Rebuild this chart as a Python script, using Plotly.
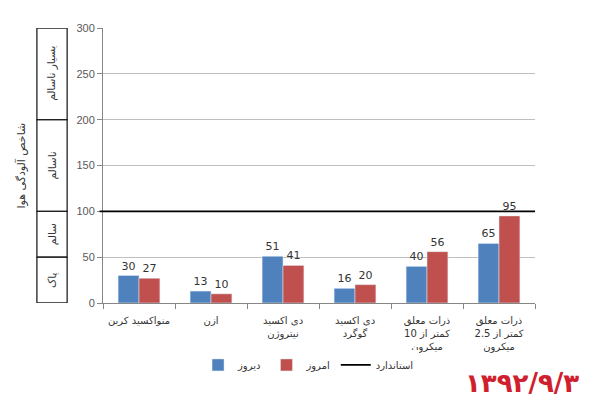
import plotly.graph_objects as go

# pollutant categories (x axis)
categories = [
    "منواکسید کربن",
    "ازن",
    "دی اکسید<br>نیتروژن",
    "دی اکسید<br>گوگرد",
    "ذرات معلق<br>کمتر از 10<br>میکرون",
    "ذرات معلق<br>کمتر از 2.5<br>میکرون",
]
yesterday = [30, 13, 51, 16, 40, 65]
today = [27, 10, 41, 20, 56, 95]
standard = 100

# air quality bands on the left
band_names = ["پاک", "سالم", "ناسالم", "بسیار ناسالم"]
band_edges = [0, 50, 100, 200, 300]

y_ticks = [0, 50, 100, 150, 200, 250, 300]

blue = "#4F81BD"
red = "#C0504D"
font_fa = "DejaVu Sans"

fig = go.Figure()

fig.add_trace(go.Bar(
    x=categories, y=yesterday, name="دیروز",
    marker=dict(color=blue),
    text=yesterday, textposition="outside", cliponaxis=False,
    textfont=dict(size=11, color="#333333"),
))
fig.add_trace(go.Bar(
    x=categories, y=today, name="امروز",
    marker=dict(color=red),
    text=today, textposition="outside", cliponaxis=False,
    textfont=dict(size=11, color="#333333"),
))

# standard line
fig.add_shape(
    type="line", xref="paper", x0=-0.008, x1=1, yref="y", y0=standard, y1=standard,
    line=dict(color="black", width=1.6), showlegend=True, name="استاندارد",
)

# band boxes with labels
for i, name in enumerate(band_names):
    lo, hi = band_edges[i], band_edges[i + 1]
    fig.add_shape(
        type="rect", xref="paper", x0=-0.153, x1=-0.083, yref="y", y0=lo, y1=hi,
        line=dict(color="#222222", width=1.3), fillcolor="rgba(0,0,0,0)",
    )
    fig.add_annotation(
        xref="paper", x=-0.118, yref="y", y=(lo + hi) / 2, text=name,
        xanchor="center", yanchor="middle",
        textangle=-90, showarrow=False, font=dict(family=font_fa, size=10.5, color="#333333"),
    )

# y axis title
fig.add_annotation(
    xref="paper", x=-0.192, yref="paper", y=0.5, text="شاخص آلودگی هوا",
    xanchor="center", yanchor="middle",
    textangle=-90, showarrow=False, font=dict(family=font_fa, size=11, color="#333333"),
)

# date stamp
fig.add_annotation(
    xref="paper", x=0.97, yref="paper", y=-0.29, text="<b>۱۳۹۲/۹/۳</b>",
    showarrow=False, xanchor="center", yanchor="middle",
    font=dict(family=font_fa, size=26, color="#D0202E"),
)

# page body adds 8px offset, so figure is 8px smaller and margins shifted
fig.update_layout(
    width=592, height=401,
    margin=dict(l=95, r=65, t=20, b=106),
    paper_bgcolor="white", plot_bgcolor="white",
    barmode="group", bargap=0.42, bargroupgap=0,
    font=dict(family=font_fa, size=11, color="#333333"),
    legend=dict(
        orientation="h", x=0.22, xanchor="left", y=-0.225, yanchor="middle",
        font=dict(family=font_fa, size=10, color="#333333"),
        itemwidth=30, tracegroupgap=0,
    ),
    xaxis=dict(
        showline=True, linecolor="#868686", linewidth=1,
        ticks="outside", tickson="boundaries", ticklen=5, tickcolor="#868686",
        tickangle=0, ticklabelstandoff=8,
        tickfont=dict(family=font_fa, size=10, color="#333333"),
        showgrid=False, zeroline=False,
    ),
    yaxis=dict(
        range=[0, 300], tickvals=y_ticks,
        showline=True, linecolor="#868686", linewidth=1,
        ticks="outside", ticklen=5, tickcolor="#868686",
        tickfont=dict(family="Liberation Sans", size=11, color="#595959"),
        showgrid=True, gridcolor="#BFBFBF", gridwidth=1, zeroline=False,
    ),
)

fig.write_html("out.html")
